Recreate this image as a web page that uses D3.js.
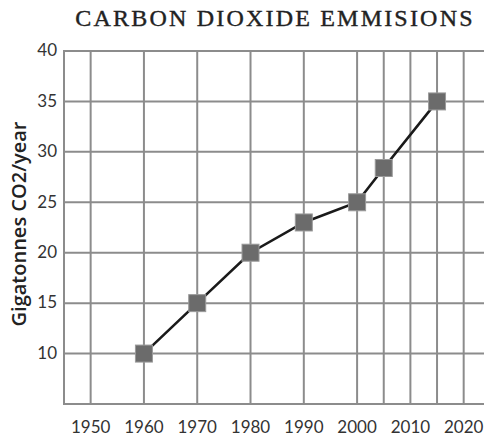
<!DOCTYPE html>
<html>
<head>
<meta charset="utf-8">
<script src="https://cdn.jsdelivr.net/npm/d3@7"></script>
<style>
  html, body { margin: 0; padding: 0; background: #fff; }
  svg { display: block; }
  .tick-label { font-family: Lato, "Open Sans", sans-serif; font-size: 17px; fill: #333; }
</style>
</head>
<body>
<svg id="chart" width="484" height="439"></svg>
<script>
const TITLE = "CARBON DIOXIDE EMMISIONS";
const Y_LABEL = "Gigatonnes CO2/year";

const years = [1960, 1970, 1980, 1990, 2000, 2005, 2015];
const emissions = [10, 15, 20, 23, 25, 28.4, 35];

const xTicks = [1950, 1960, 1970, 1980, 1990, 2000, 2010, 2020];
const xGrid = [1950, 1960, 1970, 1980, 1990, 2000, 2005, 2010, 2015, 2020];
const yTicks = [10, 15, 20, 25, 30, 35, 40];

const svg = d3.select("#chart");

const plotLeft = 64;
const plotRight = 485;
const plotTop = 51;
const plotBottom = 404;

const x = d3.scaleLinear().domain([1945, 2024]).range([plotLeft, plotRight]);
const y = d3.scaleLinear().domain([5, 40]).range([plotBottom, plotTop]);

const GRID = "#8c8c8c";

// title
svg.append("text")
  .attr("x", 275)
  .attr("y", 26)
  .attr("text-anchor", "middle")
  .style("font-family", "'Liberation Serif', 'DejaVu Serif', serif")
  .style("font-size", "24px")
  .style("letter-spacing", "2.2px")
  .style("fill", "#222")
  .style("stroke", "#222")
  .style("stroke-width", 0.4)
  .text(TITLE);

// y label
svg.append("text")
  .attr("transform", "translate(26,224) rotate(-90)")
  .attr("text-anchor", "middle")
  .style("font-family", "'Open Sans', sans-serif")
  .style("font-weight", "600")
  .style("font-size", "20px")
  .style("fill", "#222")
  .text(Y_LABEL);

const grid = svg.append("g");

// horizontal grid (40 is the top frame line)
grid.selectAll("line.h")
  .data(yTicks)
  .enter()
  .append("line")
  .attr("x1", plotLeft)
  .attr("x2", plotRight)
  .attr("y1", d => y(d))
  .attr("y2", d => y(d))
  .attr("stroke", GRID)
  .attr("stroke-width", 2);

// vertical grid
grid.selectAll("line.v")
  .data(xGrid)
  .enter()
  .append("line")
  .attr("x1", d => x(d))
  .attr("x2", d => x(d))
  .attr("y1", plotTop)
  .attr("y2", plotBottom)
  .attr("stroke", GRID)
  .attr("stroke-width", 2);

// frame: left and bottom
grid.append("line")
  .attr("x1", plotLeft).attr("x2", plotLeft)
  .attr("y1", plotTop - 1).attr("y2", plotBottom + 1)
  .attr("stroke", GRID).attr("stroke-width", 2);
grid.append("line")
  .attr("x1", plotLeft).attr("x2", plotRight)
  .attr("y1", plotBottom).attr("y2", plotBottom)
  .attr("stroke", GRID).attr("stroke-width", 2);

// tick labels
svg.selectAll("text.ylab")
  .data(yTicks)
  .enter()
  .append("text")
  .attr("class", "tick-label")
  .attr("x", 57)
  .attr("y", d => y(d) + 1)
  .attr("text-anchor", "end")
  .attr("dominant-baseline", "middle")
  .text(d => d);

svg.selectAll("text.xlab")
  .data(xTicks)
  .enter()
  .append("text")
  .attr("class", "tick-label")
  .attr("x", d => x(d))
  .attr("y", 433)
  .attr("text-anchor", "middle")
  .text(d => d);

// line
const line = d3.line()
  .x((d, i) => x(years[i]))
  .y(d => y(d));

svg.append("path")
  .datum(emissions)
  .attr("d", line)
  .attr("fill", "none")
  .attr("stroke", "#1a1a1a")
  .attr("stroke-width", 2.6);

// markers
const SIZE = 17;
svg.selectAll("rect.marker")
  .data(emissions)
  .enter()
  .append("rect")
  .attr("x", (d, i) => x(years[i]) - SIZE / 2)
  .attr("y", d => y(d) - SIZE / 2)
  .attr("width", SIZE)
  .attr("height", SIZE)
  .attr("fill", "#6b6b6b")
  .attr("stroke", "#9a9a9a")
  .attr("stroke-width", 1);
</script>
</body>
</html>
